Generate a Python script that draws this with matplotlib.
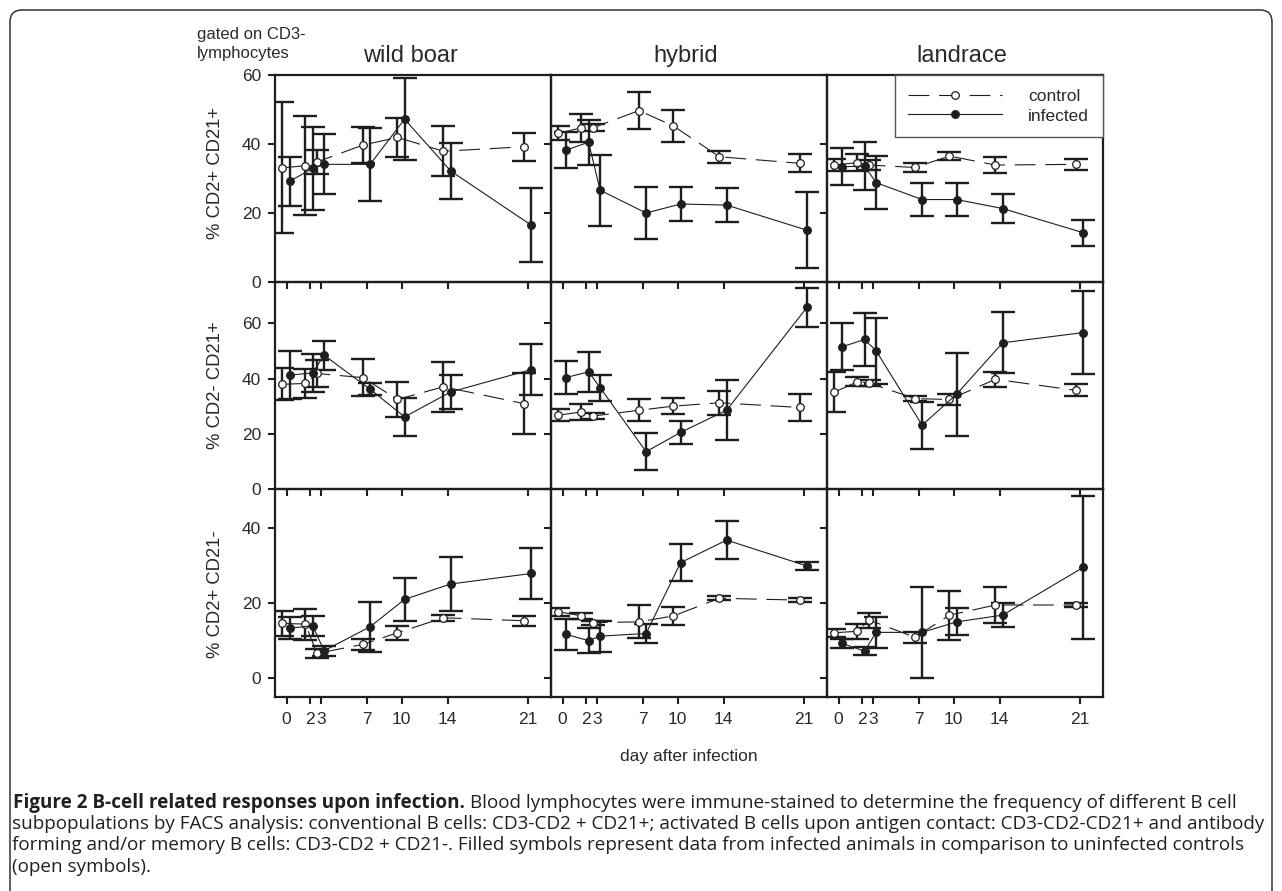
import matplotlib
matplotlib.use('Agg')
import matplotlib.pyplot as plt
from matplotlib.lines import Line2D
from matplotlib.patches import FancyBboxPatch
from matplotlib.transforms import IdentityTransform

plt.rcParams['font.family'] = ['Liberation Sans', 'DejaVu Sans']
plt.rcParams['lines.scale_dashes'] = False

# ---------------- data ----------------
days = [0, 2, 3, 7, 10, 14, 21]
breeds = ['wild boar', 'hybrid', 'landrace']
row_labels = ['% CD2+ CD21+', '% CD2- CD21+', '% CD2+ CD21-']
xtick_labels = ['0', '2', '3', '7', '10', '14', '21']

# row 0: CD2+ CD21+
wb_c0 = [33.1, 33.7, 34.8, 39.7, 41.9, 37.9, 39.2]
wb_c0_err = [19.0, 14.3, 3.4, 5.3, 5.7, 7.3, 4.0]
wb_i0 = [29.2, 32.9, 34.1, 34.1, 47.2, 32.2, 16.5]
wb_i0_err = [7.1, 12.0, 8.7, 10.5, 11.8, 8.2, 10.7]
hy_c0 = [43.1, 44.7, 44.7, 49.7, 45.2, 36.3, 34.4]
hy_c0_err = [2.0, 4.0, 1.0, 5.4, 4.7, 1.8, 2.6]
hy_i0 = [38.2, 40.5, 26.6, 20.0, 22.6, 22.3, 15.0]
hy_i0_err = [5.3, 6.5, 10.3, 7.6, 5.0, 5.0, 11.0]
la_c0 = [33.9, 34.6, 33.9, 33.2, 36.5, 33.9, 34.1]
la_c0_err = [1.7, 2.5, 1.5, 1.2, 1.2, 2.2, 1.5]
la_i0 = [33.4, 33.6, 28.8, 23.9, 23.9, 21.3, 14.3]
la_i0_err = [5.4, 7.0, 7.7, 4.8, 4.8, 4.3, 3.8]

# row 1: CD2- CD21+
wb_c1 = [38.0, 38.3, 41.9, 40.4, 32.5, 37.1, 31.0]
wb_c1_err = [5.8, 5.1, 5.0, 6.8, 6.4, 9.0, 11.0]
wb_i1 = [41.3, 42.1, 48.5, 36.2, 26.2, 35.2, 43.3]
wb_i1_err = [8.7, 7.0, 5.2, 2.2, 7.0, 6.3, 9.2]
hy_c1 = [26.8, 28.0, 26.5, 28.6, 30.1, 31.3, 29.6]
hy_c1_err = [2.2, 2.8, 1.0, 4.0, 2.9, 4.4, 5.0]
hy_i1 = [40.4, 42.5, 36.8, 13.6, 20.6, 28.6, 65.9]
hy_i1_err = [6.0, 7.3, 4.7, 6.7, 4.1, 10.8, 7.0]
la_c1 = [35.2, 38.9, 38.5, 32.8, 32.5, 39.8, 35.8]
la_c1_err = [7.2, 1.6, 1.0, 1.0, 2.1, 2.7, 2.2]
la_i1 = [51.5, 54.2, 50.1, 23.2, 34.4, 53.0, 56.7]
la_i1_err = [8.5, 9.5, 12.0, 8.5, 15.0, 11.0, 15.0]

# row 2: CD2+ CD21-
wb_c2 = [14.5, 14.3, 6.5, 8.9, 12.0, 16.0, 15.2]
wb_c2_err = [3.3, 4.1, 1.3, 1.4, 1.9, 0.8, 1.4]
wb_i2 = [13.2, 13.9, 7.2, 13.6, 20.9, 25.0, 27.8]
wb_i2_err = [2.9, 2.7, 1.4, 6.6, 5.7, 7.2, 6.7]
hy_c2 = [17.6, 16.5, 14.7, 14.9, 16.5, 21.2, 20.7]
hy_c2_err = [1.0, 0.8, 0.5, 4.4, 2.4, 0.5, 0.6]
hy_i2 = [11.6, 9.9, 11.1, 11.8, 30.7, 36.7, 29.8]
hy_i2_err = [4.1, 3.3, 4.1, 2.6, 4.9, 5.0, 1.1]
la_c2 = [12.0, 12.4, 15.4, 10.8, 16.7, 19.4, 19.4]
la_c2_err = [1.0, 2.0, 2.0, 1.4, 6.5, 4.8, 0.5]
la_i2 = [9.2, 7.1, 12.1, 12.1, 14.9, 16.7, 29.4]
la_i2_err = [1.2, 1.0, 4.2, 12.2, 3.6, 3.2, 19.0]

control = [[(wb_c0, wb_c0_err), (hy_c0, hy_c0_err), (la_c0, la_c0_err)],
           [(wb_c1, wb_c1_err), (hy_c1, hy_c1_err), (la_c1, la_c1_err)],
           [(wb_c2, wb_c2_err), (hy_c2, hy_c2_err), (la_c2, la_c2_err)]]
infected = [[(wb_i0, wb_i0_err), (hy_i0, hy_i0_err), (la_i0, la_i0_err)],
            [(wb_i1, wb_i1_err), (hy_i1, hy_i1_err), (la_i1, la_i1_err)],
            [(wb_i2, wb_i2_err), (hy_i2, hy_i2_err), (la_i2, la_i2_err)]]

row_ylims = [(0, 60), (0, 75), (-5.05, 50.25)]
row_yticks = [[0, 20, 40, 60], [0, 20, 40, 60], [0, 20, 40]]

caption_bold = 'Figure 2 B-cell related responses upon infection.'
caption_l1 = 'Blood lymphocytes were immune-stained to determine the frequency of different B cell'
caption_l2 = ('subpopulations by FACS analysis: conventional B cells: CD3-CD2 + CD21+; activated B cells '
              'upon antigen contact: CD3-CD2-CD21+ and antibody')
caption_l3 = ('forming and/or memory B cells: CD3-CD2 + CD21-. Filled symbols represent data from '
              'infected animals in comparison to uninfected controls')
caption_l4 = '(open symbols).'

# ---------------- layout ----------------
W, H = 1282, 891
fig = plt.figure(figsize=(W / 100, H / 100), dpi=100)
fig.patch.set_facecolor('white')

def fx(px):
    return px / W

def fy(py):
    return 1 - py / H

INK = '#1e1e1e'
TXT = '#2a2a2a'
col_left = [275, 551, 827]
col_w = 276
row_top = [75, 282, 489.3]
row_h = [207, 207.3, 207.4]
ctrl_off = -0.35
inf_off = 0.27
dash = (0, (15, 7))

axes = []
for r in range(3):
    row_axes = []
    for c in range(3):
        ax = fig.add_axes([fx(col_left[c]), fy(row_top[r] + row_h[r]),
                           col_w / W, row_h[r] / H])
        ax.set_facecolor('none')
        ax.set_xlim(-1, 23)
        ax.set_ylim(*row_ylims[r])
        ax.set_xticks(days)
        ax.set_yticks(row_yticks[r])
        ax.set_xticklabels(xtick_labels)
        for s in ax.spines.values():
            s.set_linewidth(1.6)
            s.set_color(INK)
        ax.tick_params(direction='out', length=5, width=1.5, colors=INK,
                       labelsize=12.5, labelcolor=TXT)
        ax.tick_params(axis='x', pad=6)
        ax.tick_params(axis='y', pad=5)
        if c > 0:
            ax.tick_params(axis='y', labelleft=False)
        if r < 2:
            ax.tick_params(axis='x', labelbottom=False)

        cy, ce = control[r][c]
        iy, ie = infected[r][c]
        xc = [d + ctrl_off for d in days]
        xi = [d + inf_off for d in days]
        for xx, yy, ee in ((xc, cy, ce), (xi, iy, ie)):
            ax.errorbar(xx, yy, yerr=ee, fmt='none', ecolor=INK, elinewidth=1.7,
                        capsize=8.5, capthick=1.7, zorder=2)
        ax.plot(xc, cy, color=INK, lw=0.8, ls=dash, marker='o', ms=5.5,
                mfc='white', mec=INK, mew=0.9, zorder=3)
        ax.plot(xi, iy, color=INK, lw=0.8, ls='-', marker='o', ms=5.5,
                mfc=INK, mec=INK, mew=0.9, zorder=4)
        row_axes.append(ax)
    axes.append(row_axes)

# titles
for c in range(3):
    fig.text(fx(col_left[c] + col_w / 2 - 3), fy(61.7), breeds[c], fontsize=17,
             ha='center', va='baseline', color=TXT)

# row labels
label_y = [173, 385, 594]
for r in range(3):
    fig.text(fx(215), fy(label_y[r]), row_labels[r], fontsize=13.3, rotation=90,
             ha='center', va='center', color=TXT)

fig.text(fx(197), fy(39.5), 'gated on CD3-', fontsize=12, ha='left', va='baseline',
         color=TXT)
fig.text(fx(197), fy(58), 'lymphocytes', fontsize=12, ha='left', va='baseline',
         color=TXT)

fig.text(fx(689), fy(757), 'day after infection', fontsize=12.5, ha='center',
         va='center', color=TXT)

# legend
h_ctrl = Line2D([], [], color=INK, lw=0.8, ls=dash, marker='o', ms=5.5,
                mfc='white', mec=INK, mew=0.9)
h_inf = Line2D([], [], color=INK, lw=0.8, ls='-', marker='o', ms=5.5,
               mfc=INK, mec=INK, mew=0.9)
leg = axes[0][2].legend([h_ctrl, h_inf], ['control', 'infected'], loc='upper right',
                        borderaxespad=0, frameon=True, fancybox=False, framealpha=1,
                        edgecolor='#555555', handlelength=5.4, handletextpad=1.5,
                        borderpad=0.8, labelspacing=0.25, fontsize=12.5, numpoints=1)
leg.get_frame().set_linewidth(1.0)
for t in leg.get_texts():
    t.set_color(TXT)

# outer frame
frame = FancyBboxPatch((10, -30), 1262, 911,
                       boxstyle='round,pad=0,rounding_size=12',
                       transform=IdentityTransform(), facecolor='none',
                       edgecolor='#333333', linewidth=1.1, zorder=0)
fig.add_artist(frame)

# caption
renderer = fig.canvas.get_renderer()
cap_font = 'Open Sans'
t2 = fig.text(fx(12), fy(829), caption_l2, fontsize=12, family=cap_font,
              ha='left', va='baseline', color='#231f20')
wpx = t2.get_window_extent(renderer).width
fs = 12 * 1243 / wpx
t2.set_fontsize(fs)
tb = fig.text(fx(13), fy(808), caption_bold, fontsize=fs, family=cap_font,
              weight='bold', ha='left', va='baseline', color='#231f20')
bw = tb.get_window_extent(renderer).x1
fig.text((bw + 0.27 * fs * 100 / 72) / W, fy(808), caption_l1, fontsize=fs,
         family=cap_font, ha='left', va='baseline', color='#231f20')
fig.text(fx(12), fy(850), caption_l3, fontsize=fs, family=cap_font,
         ha='left', va='baseline', color='#231f20')
fig.text(fx(12), fy(872), caption_l4, fontsize=fs, family=cap_font,
         ha='left', va='baseline', color='#231f20')

fig.savefig('out.png', dpi=100)
